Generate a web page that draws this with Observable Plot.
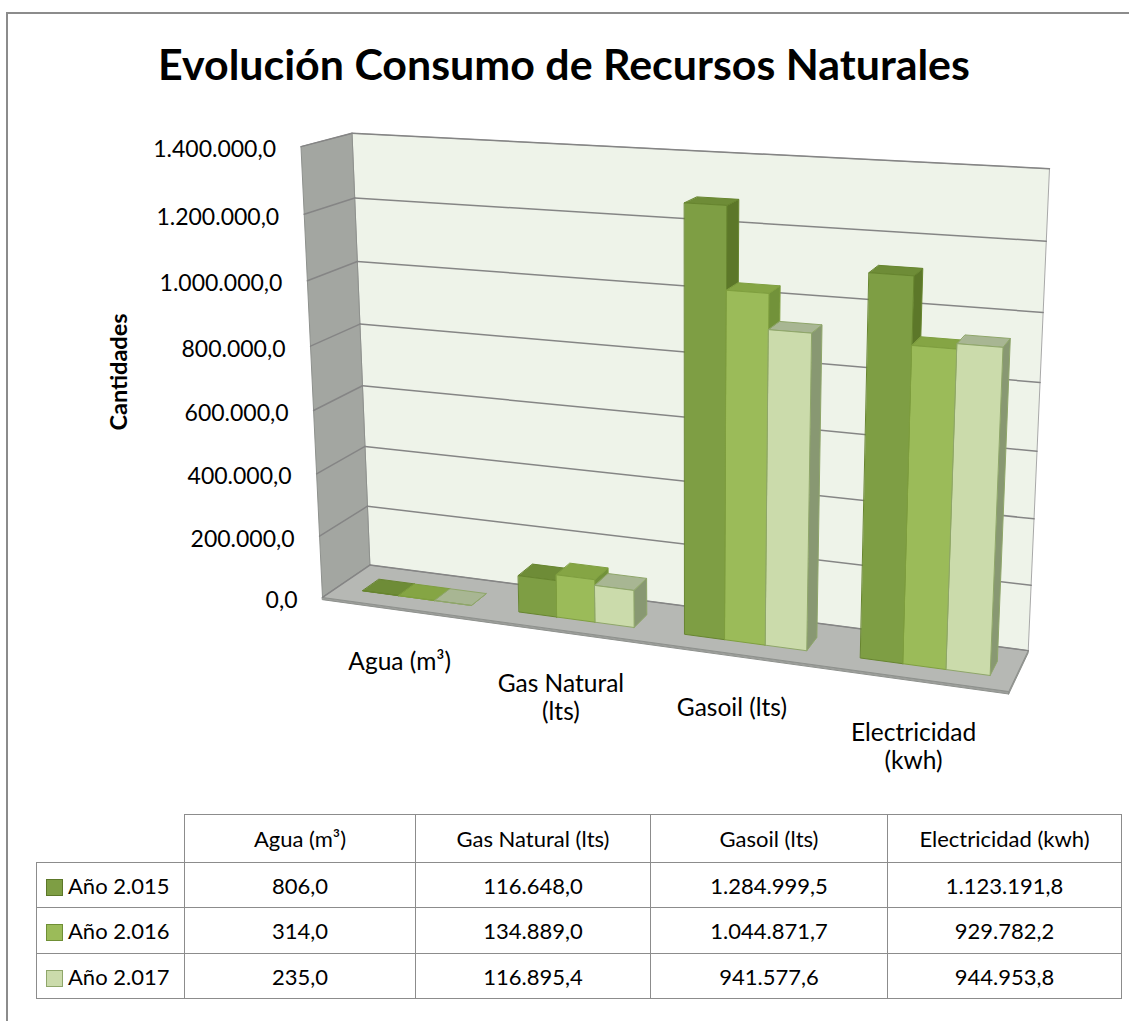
<!DOCTYPE html>
<html>
<head>
<meta charset="utf-8">
<script src="https://cdn.jsdelivr.net/npm/d3@7"></script>
<script src="https://cdn.jsdelivr.net/npm/@observablehq/plot@0.6"></script>
<style>
  html, body { margin:0; padding:0; background:#fff; }
  #root { position:relative; width:1129px; height:1021px; overflow:hidden; font-family: Lato, "Open Sans", sans-serif; color:#000; }
  #frame { position:absolute; left:6px; top:12px; width:1300px; height:1100px; border-left:2px solid #8c8c8c; border-top:2px solid #8c8c8c; }
  #chart { position:absolute; left:0; top:0; }
  #overlay { position:absolute; left:0; top:0; pointer-events:none; }
  #tbl { position:absolute; left:36px; top:814px; border-collapse:collapse; table-layout:fixed; font-size:22px; }
  #tbl td { border:1.5px solid #8c8c8c; text-align:center; padding:0; white-space:nowrap; box-sizing:border-box; }
  #tbl td.corner { border-top:none; border-left:none; }
  #tbl td.rowh { text-align:left; padding-left:9px; }
  .sw { display:inline-block; width:17px; height:17px; box-sizing:border-box; border:1px solid; vertical-align:-2px; margin-right:5px; }
</style>
</head>
<body>
<div id="root">
  <div id="frame"></div>
  <div id="chart"></div>
  <svg id="overlay" width="1129" height="800"></svg>
  <table id="tbl"></table>
</div>
<script>
// ---------------- DATA ----------------
const categories = ["Agua (m³)", "Gas Natural (lts)", "Gasoil (lts)", "Electricidad (kwh)"];
const axisLabels = ["Agua (m³)", "Gas Natural\n(lts)", "Gasoil (lts)", "Electricidad\n(kwh)"];
const seriesNames = ["Año 2.015", "Año 2.016", "Año 2.017"];
const values2015 = [806.0, 116648.0, 1284999.5, 1123191.8];
const values2016 = [314.0, 134889.0, 1044871.7, 929782.2];
const values2017 = [235.0, 116895.4, 941577.6, 944953.8];
const yTicks = [0, 200000, 400000, 600000, 800000, 1000000, 1200000, 1400000];
const titleText = "Evolución Consumo de Recursos Naturales";
const yTitleText = "Cantidades";
const seriesValues = [values2015, values2016, values2017];

// ---------------- LAYOUT ----------------
const CAM = { yaw: 19.4, pitch: 13.9, f: 1970, cx: 690, cy: 345, tx: -186.8, ty: -127.9, tz: 1000 };
const BOX = { W: 350, H: 230, D: 50, vmax: 1400000, floorT: 1.2 };
const BARS = { group: 0.70, shift: 0.02, z0: 0.30, z1: 0.65 };
const COLORS = {
  front: ["#7E9E44", "#9BBB59", "#CBDBAB"],
  top:   ["#6E8C37", "#85A544", "#A8B693"],
  side:  ["#5C7729", "#72923A", "#889872"],
  edge:  ["#67852F", "#7F9F3F", "#8FA66A"],
  swatchBorder: ["#5C7729", "#6F8F35", "#8FA66A"]
};
const WALL = { back: "#EEF3E9", backEdge: "#A8A8A8", left: "#A3A6A1", leftEdge: "#8E918D",
               floor: "#B6B8B4", floorEdge: "#8E918D", floorFront: "#9D9F9B", grid: "#858585" };
const SVG_W = 1129, SVG_H = 800;
const TICK = { dx: -25, dy: 3, size: 23 };
const CAT = { gap: 42, size: 24.5, lineHeight: 1.15 };
const TITLE = { width: 812, cx: 564, baseline: 80 };
const YTITLE = { x: 119, y: 372, size: 23.5 };

// ---------------- PROJECTION ----------------
const ya = CAM.yaw * Math.PI / 180, pa = CAM.pitch * Math.PI / 180;
function project(X, Y, Z) {
  const x1 = X * Math.cos(ya) + Z * Math.sin(ya);
  const z1 = -X * Math.sin(ya) + Z * Math.cos(ya);
  const y2 = Y * Math.cos(pa) + z1 * Math.sin(pa);
  const z2 = -Y * Math.sin(pa) + z1 * Math.cos(pa);
  const xc = x1 + CAM.tx, yc = y2 + CAM.ty, zc = z2 + CAM.tz;
  return [xc / zc, yc / zc];
}
const W = BOX.W, H = BOX.H, D = BOX.D;
const slot = W / categories.length;
const Yof = v => H * v / BOX.vmax;

function pushPoly(arr, id, fill, stroke, pts) {
  for (const [X, Y, Z] of pts) {
    const [u, v] = project(X, Y, Z);
    arr.push({ id, fill, stroke, u, v });
  }
}

// walls & floor
const wallRows = [];
pushPoly(wallRows, "back", WALL.back, WALL.backEdge, [[0,0,D],[0,H,D],[W,H,D],[W,0,D]]);
pushPoly(wallRows, "left", WALL.left, WALL.leftEdge, [[0,0,0],[0,H,0],[0,H,D],[0,0,D]]);
const T = BOX.floorT;
pushPoly(wallRows, "floorFront", WALL.floorFront, WALL.floorEdge, [[0,-T,0],[W,-T,0],[W,0,0],[0,0,0]]);
pushPoly(wallRows, "floorSide", WALL.floorFront, WALL.floorEdge, [[W,-T,0],[W,-T,D],[W,0,D],[W,0,0]]);
pushPoly(wallRows, "floor", WALL.floor, WALL.floorEdge, [[0,0,0],[W,0,0],[W,0,D],[0,0,D]]);

// gridlines
const gridRows = [];
yTicks.forEach((t, k) => {
  const Y = Yof(t);
  pushPoly(gridRows, "gb" + k, null, null, [[0,Y,D],[W,Y,D]]);
  pushPoly(gridRows, "gl" + k, null, null, [[0,Y,0],[0,Y,D]]);
});

// bars (drawn left to right)
const barRows = [];
const bw = BARS.group / seriesNames.length;
categories.forEach((c, i) => {
  seriesValues.forEach((vals, j) => {
    const X0 = (i + 0.5 + BARS.shift - BARS.group / 2 + j * bw) * slot;
    const X1 = X0 + bw * slot;
    const Z0 = BARS.z0 * D, Z1 = BARS.z1 * D;
    const Yt = Yof(vals[i]);
    const id = `b${i}_${j}`;
    pushPoly(barRows, id + "s", COLORS.side[j], COLORS.edge[j], [[X1,0,Z0],[X1,0,Z1],[X1,Yt,Z1],[X1,Yt,Z0]]);
    pushPoly(barRows, id + "t", COLORS.top[j], COLORS.edge[j], [[X0,Yt,Z0],[X1,Yt,Z0],[X1,Yt,Z1],[X0,Yt,Z1]]);
    pushPoly(barRows, id + "f", COLORS.front[j], COLORS.edge[j], [[X0,0,Z0],[X1,0,Z0],[X1,Yt,Z0],[X0,Yt,Z0]]);
  });
});

// labels
const fmt = d3.formatLocale({ decimal: ",", thousands: ".", grouping: [3], currency: ["", ""] }).format(",.1f");
const tickRows = yTicks.map(t => { const [u, v] = project(0, Yof(t), 0); return { u, v, label: fmt(t) }; });
const catRows = axisLabels.map((lab, i) => {
  const [u, v] = project((i + 0.5) * slot, 0, 0);
  return { u, v: v - CAT.gap / CAM.f, label: lab };
});

const chart = Plot.plot({
  width: SVG_W, height: SVG_H, margin: 0,
  x: { type: "linear", domain: [(0 - CAM.cx) / CAM.f, (SVG_W - CAM.cx) / CAM.f], range: [0, SVG_W], axis: null },
  y: { type: "linear", domain: [CAM.cy / CAM.f, (CAM.cy - SVG_H) / CAM.f], range: [0, SVG_H], axis: null },
  color: { type: "identity" },
  style: { fontFamily: "Lato, 'Open Sans', sans-serif", background: "transparent", color: "#000" },
  marks: [
    Plot.line(wallRows, { x: "u", y: "v", z: "id", fill: "fill", stroke: "stroke", strokeWidth: 1, curve: "linear-closed" }),
    Plot.line(gridRows, { x: "u", y: "v", z: "id", stroke: WALL.grid, strokeWidth: 1.5 }),
    Plot.line(barRows, { x: "u", y: "v", z: "id", fill: "fill", stroke: "stroke", strokeWidth: 1, strokeLinejoin: "round", curve: "linear-closed" }),
    Plot.text(tickRows, { x: "u", y: "v", text: "label", textAnchor: "end", dx: TICK.dx, dy: TICK.dy, fontSize: TICK.size, fill: "#000" }),
    Plot.text(catRows, { x: "u", y: "v", text: "label", textAnchor: "middle", lineAnchor: "top", lineHeight: CAT.lineHeight, fontSize: CAT.size, fill: "#000" })
  ]
});
document.getElementById("chart").appendChild(chart);

// title & axis title
const ctx = document.createElement("canvas").getContext("2d");
ctx.font = "bold 100px Lato";
const titleSize = 100 * TITLE.width / ctx.measureText(titleText).width;
const ov = d3.select("#overlay");
ov.append("text").attr("x", TITLE.cx).attr("y", TITLE.baseline).attr("text-anchor", "middle")
  .attr("font-family", "Lato, sans-serif").attr("font-weight", 700).attr("font-size", titleSize).text(titleText);
ov.append("text").attr("transform", `translate(${YTITLE.x},${YTITLE.y}) rotate(-90)`).attr("text-anchor", "middle")
  .attr("dy", "0.35em").attr("font-family", "Lato, sans-serif").attr("font-weight", 700).attr("font-size", YTITLE.size).text(yTitleText);

// data table
const colW = [148, 231, 235, 237, 234];
const rowH = [48, 45, 46, 45];
const tbl = d3.select("#tbl");
const cg = tbl.append("colgroup");
colW.forEach(w => cg.append("col").style("width", w + "px"));
tbl.style("width", d3.sum(colW) + "px");
const hr = tbl.append("tr").style("height", rowH[0] + "px");
hr.append("td").attr("class", "corner");
categories.forEach(c => hr.append("td").text(c));
seriesNames.forEach((s, j) => {
  const tr = tbl.append("tr").style("height", rowH[j + 1] + "px");
  const th = tr.append("td").attr("class", "rowh");
  th.append("span").attr("class", "sw").style("background", COLORS.front[j]).style("border-color", COLORS.swatchBorder[j]);
  th.append("span").text(s);
  seriesValues[j].forEach(v => tr.append("td").text(fmt(v)));
});
</script>
</body>
</html>
